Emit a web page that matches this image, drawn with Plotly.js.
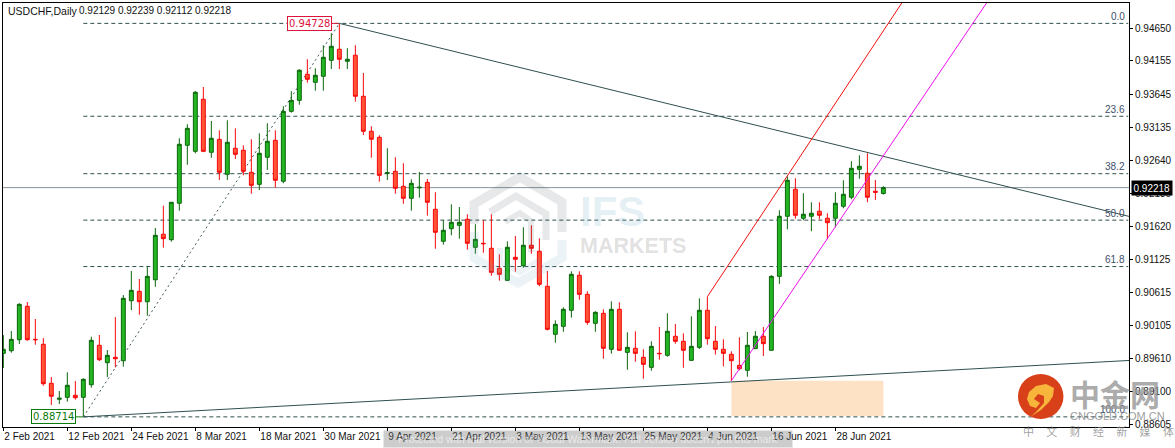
<!DOCTYPE html>
<html><head><meta charset="utf-8">
<script src="https://cdn.plot.ly/plotly-3.0.1.min.js"></script>
<style>html,body{margin:0;padding:0;background:#fff}#c{width:1175px;height:448px}</style>
</head><body><div id="c"></div>
<script>
// Daily USDCHF bars, one per weekday from 2 Feb 2021
const open=[.89685,.89725,.89893,.90404,.89899,.89823,.89227,.88983,.89013,.89044,.89013,.89206,.89808,.89542,.89624,.89572,.90489,.90633,.90474,.90810,.91505,.91422,.91979,.92865,.92773,.93568,.92758,.92956,.92421,.92819,.92789,.92452,.92268,.92682,.92941,.92315,.93384,.93552,.93950,.93828,.93920,.94164,.94333,.94149,.94241,.93614,.93079,.92987,.92437,.92467,.92238,.92055,.92215,.92299,.91887,.91398,.91590,.91642,.91734,.91306,.91367,.91291,.90984,.90801,.91153,.91025,.91337,.91245,.90710,.89976,.90098,.90343,.90878,.90587,.90144,.90297,.89747,.90358,.89700,.89762,.89624,.89471,.89685,.89655,.89946,.89869,.89578,.89777,.90343,.89869,.89747,.89670,.89502,.89426,.89757,.89946,.89732,.90862,.91780,.92193,.91750,.91780,.91857,.91750,.91750,.91933,.92071,.92498,.92437,.92162,.92129];
const high=[.89965,.90026,.90450,.90469,.90210,.89919,.89323,.89110,.89395,.89262,.89304,.89939,.89965,.89736,.90240,.90576,.90944,.90821,.91015,.91601,.91942,.91998,.92972,.93186,.93695,.93756,.93236,.93094,.93247,.93124,.92865,.92956,.93048,.93201,.93094,.93461,.93691,.94027,.94180,.94042,.94394,.94577,.94728,.94348,.94394,.93970,.93156,.93018,.92819,.92682,.92590,.92345,.92457,.92350,.92147,.91719,.91963,.91922,.91811,.91658,.91719,.91811,.91198,.91397,.91479,.91612,.91642,.91443,.90944,.90190,.90388,.90939,.90939,.90633,.90328,.90358,.90480,.90465,.90006,.90021,.89747,.89869,.90087,.90297,.90134,.89991,.90251,.90526,.90551,.90102,.89899,.89716,.89930,.90011,.90026,.90087,.90878,.91872,.92391,.92361,.92132,.91994,.91994,.91826,.92147,.92330,.92620,.92712,.92743,.92335,.92239];
const low=[.89461,.89695,.89828,.89878,.89817,.89190,.88896,.88911,.88946,.88977,.88714,.89160,.89568,.89323,.89471,.89482,.90347,.90275,.90260,.90703,.91300,.91392,.91865,.92567,.92743,.92760,.92675,.92335,.92335,.92656,.92406,.92125,.92181,.92488,.92217,.92284,.93363,.93485,.93822,.93700,.93700,.94031,.94031,.94031,.93532,.93023,.92675,.92309,.92335,.92125,.91972,.91865,.92064,.91789,.91284,.91346,.91489,.91438,.91270,.91208,.91223,.90871,.90796,.90790,.90933,.90994,.91208,.90710,.90036,.89847,.90015,.90230,.90505,.90123,.90015,.89603,.89680,.89725,.89434,.89557,.89297,.89419,.89588,.89634,.89832,.89465,.89570,.89751,.89817,.89666,.89486,.89263,.89426,.89328,.89750,.89644,.89725,.90747,.91581,.91743,.91719,.91551,.91734,.91428,.91612,.91902,.92040,.92354,.91994,.92029,.92112];
const close=[.89747,.89899,.90434,.89893,.89893,.89221,.89029,.88998,.89197,.89007,.89288,.89884,.89588,.89655,.89603,.90526,.90648,.90474,.90862,.91489,.91438,.91994,.92880,.93124,.93675,.92773,.92972,.92452,.92911,.92727,.92467,.92253,.92743,.92926,.92330,.93384,.93552,.94012,.93874,.93935,.94210,.94378,.94180,.94180,.93614,.93079,.92957,.92406,.92446,.92208,.92055,.92284,.92223,.91994,.91535,.91566,.91688,.91688,.91367,.91428,.91361,.90923,.90893,.91306,.91123,.91337,.91291,.90740,.90052,.90129,.90358,.90893,.90587,.90159,.90312,.89762,.90358,.89732,.89777,.89685,.89517,.89792,.89680,.90022,.89869,.89732,.89792,.90343,.89909,.89747,.89685,.89572,.89450,.89808,.89946,.89833,.90862,.91780,.92330,.91795,.91811,.91826,.91795,.91682,.91979,.92116,.92513,.92544,.92071,.92147,.92218];
const barIndex=open.map((_,i)=>i);

const dateTickBars=[0,8,16,24,32,40,48,56,64,72,80,88,96,104];
const dateTickLabels=["2 Feb 2021","12 Feb 2021","24 Feb 2021","8 Mar 2021","18 Mar 2021","30 Mar 2021","9 Apr 2021","21 Apr 2021","3 May 2021","13 May 2021","25 May 2021","4 Jun 2021","16 Jun 2021","28 Jun 2021"];
const priceTicks=[0.94650,0.94155,0.93645,0.93135,0.92640,0.92130,0.91620,0.91125,0.90615,0.90105,0.89610,0.89100,0.88605];

const swingHigh=0.94728, swingLow=0.88714, lastPrice=0.92218;
const fibLevels=[0,23.6,38.2,50,61.8,100];
const fibLabels=["0.0","23.6","38.2","50.0","61.8","100.0"];
const swingLowBar=10, swingHighBar=42, axisEndBar=140.7;

const font="Liberation Sans, Arial, sans-serif";
const slate="#2f4f4f";
const fibPrice=l=>swingHigh-(swingHigh-swingLow)*l/100;
const fibLines=fibLevels.map(l=>({type:"line",xref:"x",yref:"y",x0:swingLowBar,x1:axisEndBar-.1,y0:fibPrice(l),y1:fibPrice(l),layer:"below",line:{color:slate,width:1,dash:"4px,3px"}}));
const fibAnn=fibLevels.map((l,i)=>({xref:"x",yref:"y",x:axisEndBar-.25,y:fibPrice(l),yshift:7,xanchor:"right",yanchor:"middle",showarrow:false,text:fibLabels[i],font:{family:font,size:10,color:"#3d4f6a"}}));

const px=(x)=>+((x-3)/1126).toFixed(4), py=(y)=>+((427-y)/424).toFixed(4);
const P=a=>a.map((q,i)=>(i?"L":"M")+px(q[0])+","+py(q[1])).join(" ");
const wm=(pts,col,w)=>({type:"path",xref:"paper",yref:"paper",path:P(pts),layer:"above",line:{color:col,width:w},opacity:0.12,fillcolor:"rgba(0,0,0,0)"});

const shapes=[
 {type:"rect",xref:"x",yref:"y",x0:91,x1:110,y0:0.88727,y1:0.89267,fillcolor:"#fde2c5",line:{width:0},layer:"below"},
 {type:"line",xref:"x",yref:"y",x0:-1,x1:axisEndBar,y0:lastPrice,y1:lastPrice,layer:"below",line:{color:"#8a949c",width:1}},
 ...fibLines,
 {type:"line",xref:"x",yref:"y",x0:swingLowBar,y0:swingLow,x1:swingHighBar,y1:swingHigh,layer:"below",line:{color:"#3f5a5a",width:1,dash:"2px,3px"}},
 {type:"line",xref:"x",yref:"y",x0:swingHighBar,y0:swingHigh,x1:axisEndBar,y1:0.91778,line:{color:slate,width:1}},
 {type:"line",xref:"x",yref:"y",x0:swingLowBar,y0:swingLow,x1:axisEndBar,y1:0.89576,line:{color:slate,width:1}},
 {type:"line",xref:"x",yref:"y",x0:88,y0:0.90551,x1:112.3,y1:0.95040,line:{color:"#f01010",width:1}},
 {type:"line",xref:"x",yref:"y",x0:91,y0:0.89267,x1:122.9,y1:0.95040,line:{color:"#ee10ee",width:1}},
 // connectors for the two swing labels
 {type:"line",xref:"paper",yref:"y",x0:0.2526,x1:0.2975,y0:swingHigh,y1:swingHigh,line:{color:"#dc143c",width:1}},
 {type:"line",xref:"paper",yref:"y",x0:0.0623,x1:0.0710,y0:swingLow,y1:swingLow,line:{color:"#0a7a0a",width:1}},
 // IFS watermark
 wm([[474,224],[474,204],[520,177],[562,202],[562,232]],"#3a4a50",9),
 wm([[490,212],[516,196],[546,214],[546,240]],"#3a4a50",7),
 wm([[505,222],[520,213],[531,221],[531,252]],"#3a4a50",6),
 wm([[474,232],[474,258],[518,283],[562,258],[562,240]],"#6a9fc0",9),
 wm([[500,248],[500,262],[520,272],[540,260]],"#6a9fc0",6),
 // 中金网 logo
 {type:"circle",xref:"paper",yref:"paper",x0:px(1018),x1:px(1063.5),y0:py(419),y1:py(374),fillcolor:"#d8401a",line:{width:0},layer:"above"},
 {type:"path",xref:"paper",yref:"paper",path:P([[1030,417],[1041,410],[1049,402],[1053,396],[1054,388],[1046,384],[1036,386],[1029,392],[1027,399],[1030,406],[1036,408],[1040,403],[1034,399],[1038,394],[1044,396],[1044,403],[1036,412]])+" Z",fillcolor:"#f7b53c",line:{width:0},layer:"above"}
];

const nb="&nbsp;&nbsp;&nbsp;&nbsp;&nbsp;";
const annotations=[
 ...fibAnn,
 {xref:"paper",yref:"paper",x:px(6),y:py(10.5),xanchor:"left",yanchor:"middle",showarrow:false,text:"USDCHF,Daily",font:{family:font,size:10.5,color:"#111"}},
 {xref:"paper",yref:"paper",x:px(77),y:py(10.5),xanchor:"left",yanchor:"middle",showarrow:false,text:"0.92129 0.92239 0.92112 0.92218",font:{family:font,size:10,color:"#111"}},
 {xref:"paper",yref:"y",x:px(287),y:swingHigh,xanchor:"left",yanchor:"middle",showarrow:false,text:"0.94728",font:{family:"DejaVu Sans",size:10,color:"#dc143c"},bordercolor:"#dc143c",borderwidth:1,borderpad:1,bgcolor:"#fff"},
 {xref:"paper",yref:"y",x:px(31),y:swingLow,xanchor:"left",yanchor:"middle",showarrow:false,text:"0.88714",font:{family:"DejaVu Sans",size:10,color:"#0a7a0a"},bordercolor:"#0a7a0a",borderwidth:1,borderpad:1,bgcolor:"#fff"},
 {xref:"paper",yref:"y",x:1.0019,y:lastPrice,xanchor:"left",yanchor:"middle",showarrow:false,text:"0.92218",font:{family:font,size:10,color:"#fff"},bgcolor:"#000",borderpad:1.5},
 {xref:"paper",yref:"paper",x:px(578),y:py(212),xanchor:"left",yanchor:"middle",showarrow:false,text:"<b>IFS</b>",font:{family:font,size:42,color:"rgba(120,175,205,0.2)"}},
 {xref:"paper",yref:"paper",x:px(578),y:py(246),xanchor:"left",yanchor:"middle",showarrow:false,text:"<b>MARKETS</b>",font:{family:font,size:21.5,color:"rgba(70,70,70,0.18)"}},
 {xref:"paper",yref:"paper",x:px(1068),y:py(393),xanchor:"left",yanchor:"middle",showarrow:false,text:"<b>中金网</b>",font:{family:"Noto Sans CJK SC",size:30,color:"rgba(150,150,150,0.8)"}},
 {xref:"paper",yref:"paper",x:px(1068),y:py(416),xanchor:"left",yanchor:"middle",showarrow:false,text:"CNGOLD.COM.CN",font:{family:font,size:11,color:"rgba(130,130,130,0.8)"}},
 {xref:"paper",yref:"paper",x:px(1021),y:py(431),xanchor:"left",yanchor:"middle",showarrow:false,text:["中","文","财","经","新","媒","体"].join(nb),font:{family:"Noto Sans CJK SC",size:11,color:"rgba(130,130,130,0.75)"}},
 {xref:"paper",yref:"paper",x:px(383),y:py(439),xanchor:"left",yanchor:"middle",width:408,height:16,align:"center",borderpad:0,showarrow:false,text:"Protected with trial version of Visual Watermark. Full version doesn't put this mark",bgcolor:"rgba(120,120,120,0.38)",font:{family:font,size:10.5,color:"rgba(255,255,255,0.6)"}}
];

const trace={type:"candlestick",x:barIndex,open:open,high:high,low:low,close:close,whiskerwidth:0,hoverinfo:"none",
 increasing:{line:{color:"#0b650b",width:1},fillcolor:"#22b722"},
 decreasing:{line:{color:"#f5070b",width:1},fillcolor:"#ff5436"}};

const layout={width:1175,height:448,margin:{l:3,r:46,t:3,b:21},paper_bgcolor:"#fff",plot_bgcolor:"#fff",showlegend:false,
 xaxis:{type:"linear",range:[-0.04,axisEndBar],rangeslider:{visible:false},showgrid:false,zeroline:false,
  tickmode:"array",tickvals:dateTickBars,ticktext:dateTickLabels,tickangle:0,ticks:"outside",ticklen:3,tickcolor:"#000",tickwidth:1,
  ticklabelposition:"outside right",tickfont:{family:font,size:10,color:"#111"},showline:true,linecolor:"#000",linewidth:1,mirror:true},
 yaxis:{side:"right",range:[0.885592,0.950397],showgrid:false,zeroline:false,
  tickmode:"array",tickvals:priceTicks,ticktext:priceTicks.map(v=>v.toFixed(5)),ticks:"outside",ticklen:3,tickcolor:"#000",tickwidth:1,
  tickfont:{family:font,size:10,color:"#111"},showline:true,linecolor:"#000",linewidth:1,mirror:true},
 shapes:shapes,annotations:annotations};
Plotly.newPlot("c",[trace],layout,{displayModeBar:false,staticPlot:true});
</script></body></html>
